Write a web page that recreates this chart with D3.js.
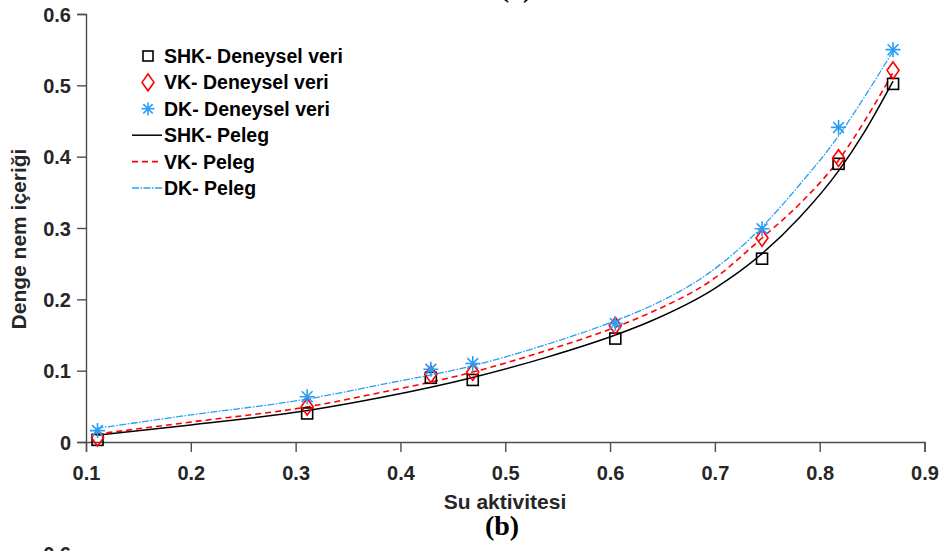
<!DOCTYPE html>
<html>
<head>
<meta charset="utf-8">
<script src="https://cdn.jsdelivr.net/npm/d3@7"></script>
<style>
body{margin:0;background:#fff;}
text{font-family:"Liberation Sans",Arial,sans-serif;font-weight:bold;}
</style>
</head>
<body>
<svg width="941" height="551"></svg>
<script>
// deneysel veri
var aw = [0.111, 0.311, 0.429, 0.469, 0.605, 0.745, 0.818, 0.870];
var shk = [0.003, 0.040, 0.090, 0.087, 0.145, 0.257, 0.390, 0.502];
var vk = [0.006, 0.0495, 0.095, 0.098, 0.163, 0.286, 0.398, 0.521];
var dk = [0.016, 0.0635, 0.102, 0.110, 0.166, 0.299, 0.441, 0.550];
// Peleg egrileri
var fitA = [0.11, 0.2, 0.31, 0.38, 0.469, 0.54, 0.605, 0.638, 0.7, 0.745, 0.781, 0.818, 0.842, 0.87];
var shkFit = [0.0095, 0.024, 0.0438, 0.062, 0.0905, 0.119, 0.150, 0.169, 0.2155, 0.264, 0.315, 0.380, 0.433, 0.506];
var vkFit = [0.011, 0.028, 0.049, 0.069, 0.098, 0.1285, 0.161, 0.181, 0.230, 0.286, 0.334, 0.395, 0.448, 0.518];
var dkFit = [0.019, 0.038, 0.060, 0.080, 0.107, 0.137, 0.170, 0.190, 0.243, 0.3015, 0.361, 0.429, 0.482, 0.548];
var xTicks = [0.1, 0.2, 0.3, 0.4, 0.5, 0.6, 0.7, 0.8, 0.9];
var yTicks = [0, 0.1, 0.2, 0.3, 0.4, 0.5, 0.6];
var legendLabels = ["SHK- Deneysel veri", "VK- Deneysel veri", "DK- Deneysel veri", "SHK- Peleg", "VK- Peleg", "DK- Peleg"];

window.onload = function(){
	var margin = {top: 14, right: 16.5, bottom: 109, left: 86};
	var width = 941 - margin.left - margin.right;
	var height = 551 - margin.top - margin.bottom;
	var axisCol = "#4d4d4d", textCol = "#262626";
	var blue = "#2a9df4";

	var svg = d3.select("svg");
	var g = svg.append("g").attr("transform", "translate(" + margin.left + "," + margin.top + ")");

	//scale
	var x = d3.scaleLinear().domain([0.1, 0.9]).range([0, width]);
	var y = d3.scaleLinear().domain([0, 0.6]).range([height, 0]);
	var fmt = function(d){ return d === 0 ? "0" : d3.format(".1f")(d); };

	//axes
	var xa = g.append("g").attr("transform", "translate(0," + height + ")")
		.call(d3.axisBottom(x).tickValues(xTicks).tickSize(10).tickFormat(fmt));
	var ya = g.append("g")
		.call(d3.axisLeft(y).tickValues(yTicks).tickSize(9).tickPadding(6).tickFormat(fmt));
	[xa, ya].forEach(function(a){
		a.select(".domain").attr("stroke", axisCol).attr("stroke-width", 1.4);
		a.selectAll(".tick line").attr("stroke", axisCol).attr("stroke-width", 1.4);
		a.selectAll(".tick text").attr("fill", textCol).style("font-size", "20px").style("font-family", "Liberation Sans, Arial").style("font-weight", "bold");
	});
	xa.selectAll(".tick text").attr("dy", "0.71em").attr("y", 24);
	ya.selectAll(".tick text").attr("dy", "0.36em");

	//labels
	svg.append("text").attr("x", 505).attr("y", 509).attr("text-anchor", "middle")
		.attr("fill", textCol).style("font-size", "21px").text("Su aktivitesi");
	svg.append("text").attr("transform", "translate(26,239) rotate(-90)").attr("text-anchor", "middle")
		.attr("fill", textCol).style("font-size", "21px").text("Denge nem içeriği");
	svg.append("text").attr("x", 502).attr("y", 535).attr("text-anchor", "middle")
		.style("font-family", "Liberation Serif, Times New Roman, serif").style("font-size", "28px").attr("fill", "#000").text("(b)");
	svg.append("text").attr("x", 516).attr("y", -3.5).attr("text-anchor", "middle")
		.style("font-family", "Liberation Serif, Times New Roman, serif").style("font-size", "28px").attr("fill", "#000").text("(a)");
	svg.append("text").attr("x", 71).attr("y", 561).attr("text-anchor", "end")
		.attr("fill", textCol).style("font-size", "20px").text("0.6");

	//curves
	var line = d3.line().curve(d3.curveMonotoneX)
		.x(function(d){ return x(d[0]); }).y(function(d){ return y(d[1]); });
	var fits = [
		{v: shkFit, col: "#000", dash: null, w: 1.5},
		{v: vkFit, col: "#ff0000", dash: "6,4", w: 1.6},
		{v: dkFit, col: blue, dash: "7,1.5,1.5,1.5", w: 1.3}
	];
	fits.forEach(function(f){
		g.append("path").datum(fitA.map(function(a, i){ return [a, f.v[i]]; }))
			.attr("d", line).attr("fill", "none").attr("stroke", f.col)
			.attr("stroke-width", f.w).attr("stroke-dasharray", f.dash);
	});

	//markers
	function square(sel, s){ sel.append("rect").attr("x", -s/2).attr("y", -s/2).attr("width", s).attr("height", s)
		.attr("fill", "none").attr("stroke", "#000").attr("stroke-width", 1.6); }
	function diamond(sel, s){ sel.append("path").attr("d", "M0," + (-s*0.7) + "L" + (s*0.5) + ",0L0," + (s*0.7) + "L" + (-s*0.5) + ",0Z")
		.attr("fill", "none").attr("stroke", "#ff0000").attr("stroke-width", 1.6); }
	function star(sel, s){ var r = s/2, q = r*0.72;
		sel.append("path").attr("d", "M" + (-r) + ",0H" + r + "M0," + (-r) + "V" + r + "M" + (-q) + "," + (-q) + "L" + q + "," + q + "M" + (-q) + "," + q + "L" + q + "," + (-q))
		.attr("fill", "none").attr("stroke", blue).attr("stroke-width", 1.6); }

	var series = [{v: shk, f: square, s: 11}, {v: vk, f: diamond, s: 12}, {v: dk, f: star, s: 15}];
	series.forEach(function(sr){
		g.append("g").selectAll("g")
			.data(aw.map(function(a, i){ return [a, sr.v[i]]; }))
			.enter().append("g")
			.attr("transform", function(d){ return "translate(" + x(d[0]) + "," + y(d[1]) + ")"; })
			.each(function(){ sr.f(d3.select(this), sr.s); });
	});

	//legend
	var lg = svg.append("g");
	legendLabels.forEach(function(t, i){
		var row = lg.append("g").attr("transform", "translate(0," + (56 + i*26.4) + ")");
		if(i < 3){
			var m = row.append("g").attr("transform", "translate(148,0)");
			if(i == 0) square(m, 10);
			if(i == 1) diamond(m, 12);
			if(i == 2) star(m, 13);
		} else {
			var f = fits[i-3];
			row.append("line").attr("x1", 132).attr("x2", 162).attr("y1", 0).attr("y2", 0)
				.attr("stroke", f.col).attr("stroke-width", f.w).attr("stroke-dasharray", f.dash);
		}
		row.append("text").attr("x", 164).attr("dy", "0.36em").attr("fill", "#000")
			.style("font-size", "19.5px").text(t);
	});
}
</script>
</body>
</html>
